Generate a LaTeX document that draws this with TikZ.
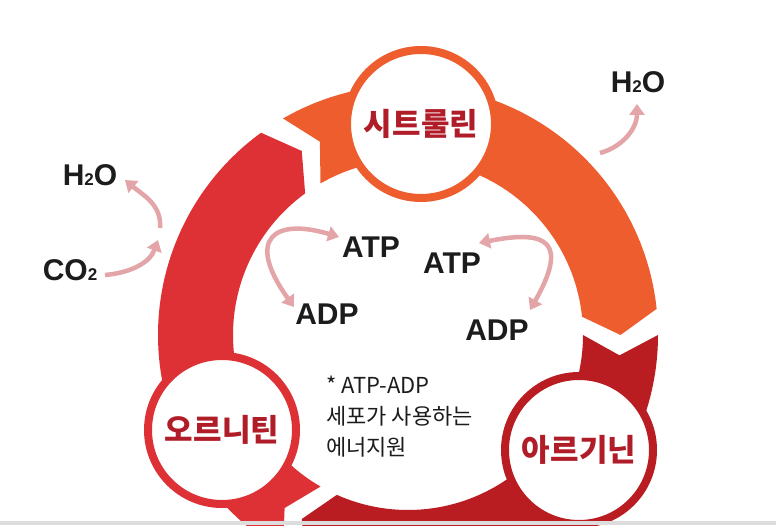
\documentclass[tikz,border=0pt]{standalone}
\usepackage{fontspec}
\setmainfont{Liberation Sans}
\newfontfamily\kr{Noto Sans CJK KR}
\usetikzlibrary{arrows.meta}
\definecolor{cRed}{HTML}{DE3135}
\definecolor{cOrange}{HTML}{EE5D2D}
\definecolor{cDark}{HTML}{B91C21}
\definecolor{cText}{HTML}{B01C28}
\definecolor{cPink}{HTML}{E3A5A7}
\definecolor{cInk}{HTML}{1C1C1C}
\definecolor{cStrip}{HTML}{DDDDDD}
\newcommand\subtwo{{\fontsize{17}{17}\selectfont 2}}
\newcommand\ringseg[3]{%
  \fill[#1] (#2:250) arc[start angle=#2, end angle=#3, radius=250]
    -- ({#3-6}:212.5) -- (#3:175)
    arc[start angle=#3, end angle=#2, radius=175]
    -- ({#2-5.5}:212.5) -- cycle;}
\tikzset{
  pinkarr/.style={draw=cPink, line width=4.5pt, -{Triangle[length=11pt,width=15pt]}},
  pinkboth/.style={draw=cPink, line width=4.5pt, {Triangle[length=11pt,width=15pt]}-{Triangle[length=11pt,width=15pt]}},
  station/.style={circle, fill=white, line width=8pt, minimum size=148pt, inner sep=0pt,
    font=\kr\bfseries\fontsize{31}{31}\selectfont, text=cText},
  chem/.style={font=\bfseries\fontsize{30}{30}\selectfont, text=cInk, inner sep=0pt},
  mol/.style={font=\bfseries\fontsize{30}{30}\selectfont, text=cInk, inner sep=0pt},
  note/.style={font=\kr\fontsize{22}{31}\selectfont, text=cInk, align=left, inner sep=0pt},
}
\begin{document}
\begin{tikzpicture}[x=1pt,y=1pt]
\useasboundingbox (0,0) rectangle (776,525);
\clip (0,0) rectangle (776,525);
\fill[white] (0,0) rectangle (776,525);
% ring segments
\begin{scope}[shift={(408,190)}]
  \ringseg{cRed}{240}{126}
  \ringseg{cOrange}{120}{6}
  \ringseg{cDark}{0}{-114}
\end{scope}
% stations
\node[station, draw=cOrange] (cit) at (421,401) {시트룰린};
\node[station, draw=cRed] (orn) at (222,95) {오르니틴};
\node[station, draw=cDark] (arg) at (579,75) {아르기닌};
% molecules
\node[mol] (atp1) at (371,278) {ATP};
\node[mol] (atp2) at (452,262) {ATP};
\node[mol] (adp1) at (327,211) {ADP};
\node[mol] (adp2) at (497,195) {ADP};
% note
\node[note, anchor=north west] (note) at (326,149) {* ATP-ADP\\세포가 사용하는\\에너지원};
% outer chemicals
\node[chem] (h2oR) at (638,443) {H\subtwo O};
\node[chem] (h2oL) at (90,350) {H\subtwo O};
\node[chem] (co2) at (70,255) {CO\subtwo};
% arrow anchor points
\coordinate (a1s) at (294,218);
\coordinate (a1e) at (339,288);
\coordinate (a2s) at (479,282);
\coordinate (a2e) at (530,215);
\coordinate (o1s) at (105,250);
\coordinate (o1e) at (158,285);
\coordinate (o2s) at (160,297);
\coordinate (o2e) at (125,345);
\coordinate (o3s) at (600,372);
\coordinate (o3e) at (637,421);
% inner double arrows
\draw[pinkboth] (a1s) .. controls (244,288) and (276,307) .. (a1e);
\draw[pinkboth] (a2s) .. controls (549,296) and (568,282) .. (a2e);
% outer arrows
\draw[pinkarr] (o1s) to[out=5,in=-110] (o1e);
\draw[pinkarr] (o2s) to[out=85,in=-40] (o2e);
\draw[pinkarr] (o3s) to[out=15,in=-90] (o3e);
% bottom strip
\fill[cStrip] (0,0) rectangle (776,4);
\end{tikzpicture}
\end{document}
